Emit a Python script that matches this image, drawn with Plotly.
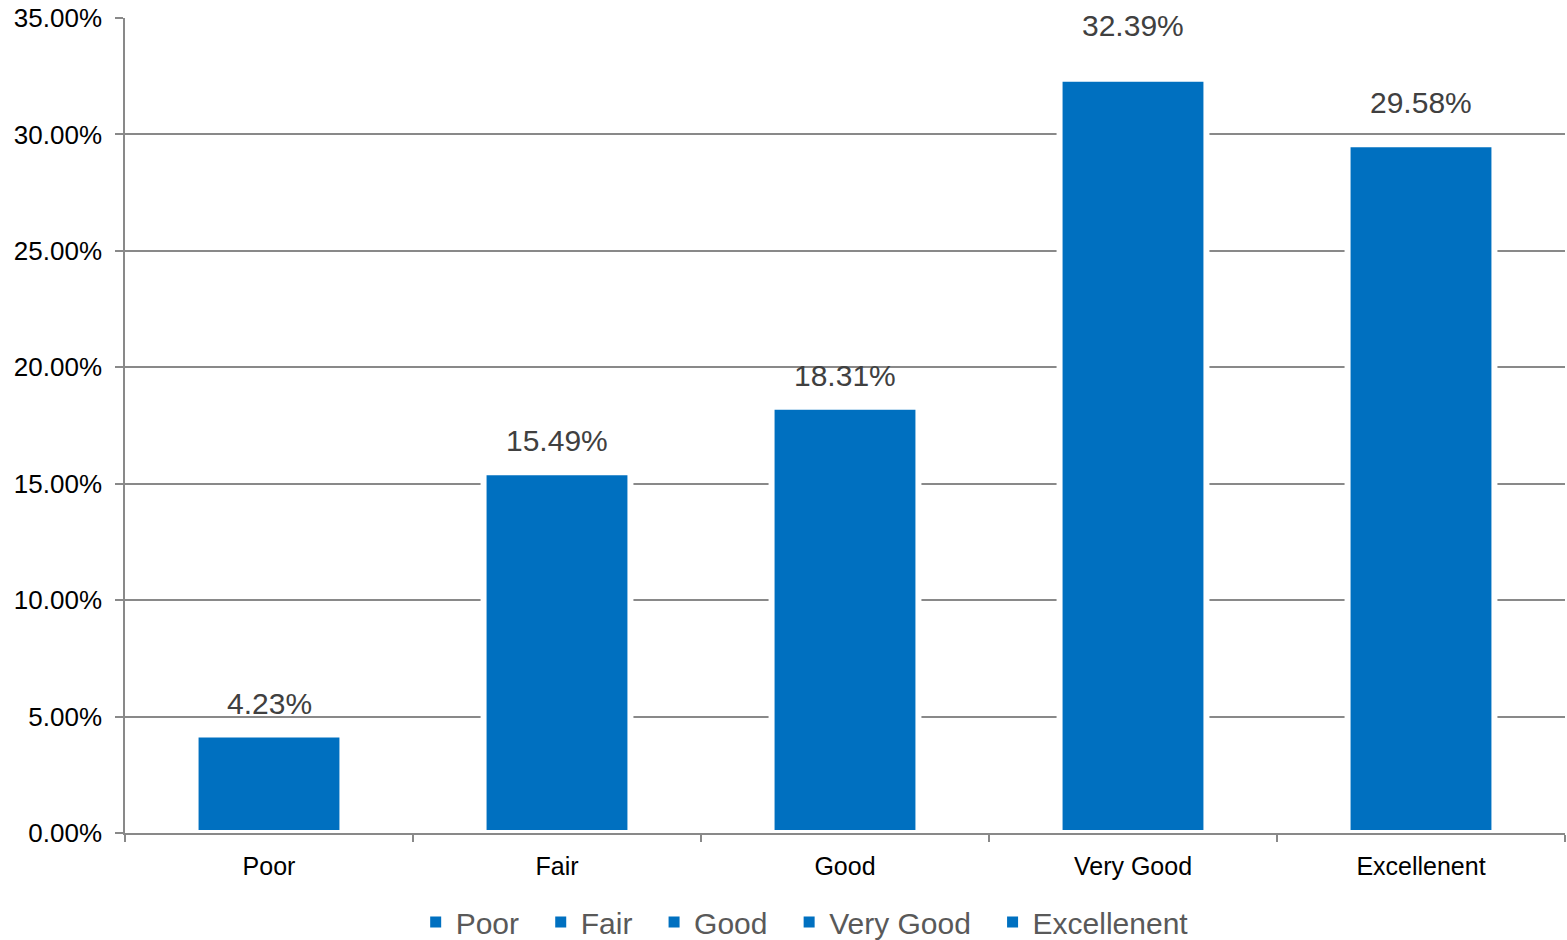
import plotly.graph_objects as go

categories = ["Poor", "Fair", "Good", "Very Good", "Excellenent"]
values = [4.23, 15.49, 18.31, 32.39, 29.58]
label_offsets = [31, 32, 31, 53, 42]  # pixel shift of value labels above bar tops
y_ticks = [0, 5, 10, 15, 20, 25, 30, 35]
y_tick_text = [f"{v:.2f}%" for v in y_ticks]

bar_color = "#0070C0"
grid_color = "#898989"
font_family = "Liberation Sans, Arial, sans-serif"

fig = go.Figure()
for cat, val in zip(categories, values):
    fig.add_trace(go.Bar(
        x=[cat], y=[val], name=cat,
        marker=dict(color=bar_color, line=dict(color="white", width=6)),
        width=0.51, showlegend=False,
        hoverinfo="x+y",
    ))
# legend entries (square markers); non-breaking spaces widen gaps between entries
for i, cat in enumerate(categories):
    pad = "\u00a0\u00a0" if i < len(categories) - 1 else ""
    fig.add_trace(go.Scatter(
        x=[None], y=[None], name=cat + pad, mode="markers",
        marker=dict(symbol="square", size=11, color=bar_color),
        showlegend=True,
    ))

for cat, val, off in zip(categories, values, label_offsets):
    fig.add_annotation(
        x=cat, y=val, text=f"{val:.2f}%", showarrow=False,
        yanchor="middle", yshift=off,
        font=dict(family=font_family, size=30, color="#404040"),
    )

fig.update_layout(
    width=1567, height=940,
    margin=dict(l=125, r=2, t=18, b=107, autoexpand=False),
    paper_bgcolor="white", plot_bgcolor="white",
    barmode="overlay",
    font=dict(family=font_family, color="black"),
    showlegend=True,
    legend=dict(
        orientation="h", x=0.472, xanchor="center",
        yref="container", y=1 - 922 / 940, yanchor="middle",
        font=dict(family=font_family, size=30, color="#595959"),
        itemwidth=30, tracegroupgap=0,
    ),
)

fig.update_xaxes(
    categoryorder="array", categoryarray=categories,
    showline=True, linecolor=grid_color, linewidth=1.5,
    ticks="outside", tickson="boundaries", ticklen=7, tickcolor=grid_color, tickwidth=1.5,
    tickfont=dict(size=25, color="black"),
    ticklabelstandoff=10,
    showgrid=False, zeroline=False, automargin=False,
)
fig.update_yaxes(
    range=[0, 35], tickvals=y_ticks, ticktext=y_tick_text,
    showline=True, linecolor=grid_color, linewidth=1.5,
    ticks="outside", ticklen=8, tickcolor=grid_color, tickwidth=1.5,
    showgrid=True, gridcolor=grid_color, gridwidth=1.5,
    zeroline=False, automargin=False,
    tickfont=dict(size=26, color="black"),
    ticklabelstandoff=8,
)

fig.write_html(
    "out.html",
    config={"displayModeBar": False},
    post_script="document.body.style.margin='0';document.body.style.overflow='hidden';",
)
